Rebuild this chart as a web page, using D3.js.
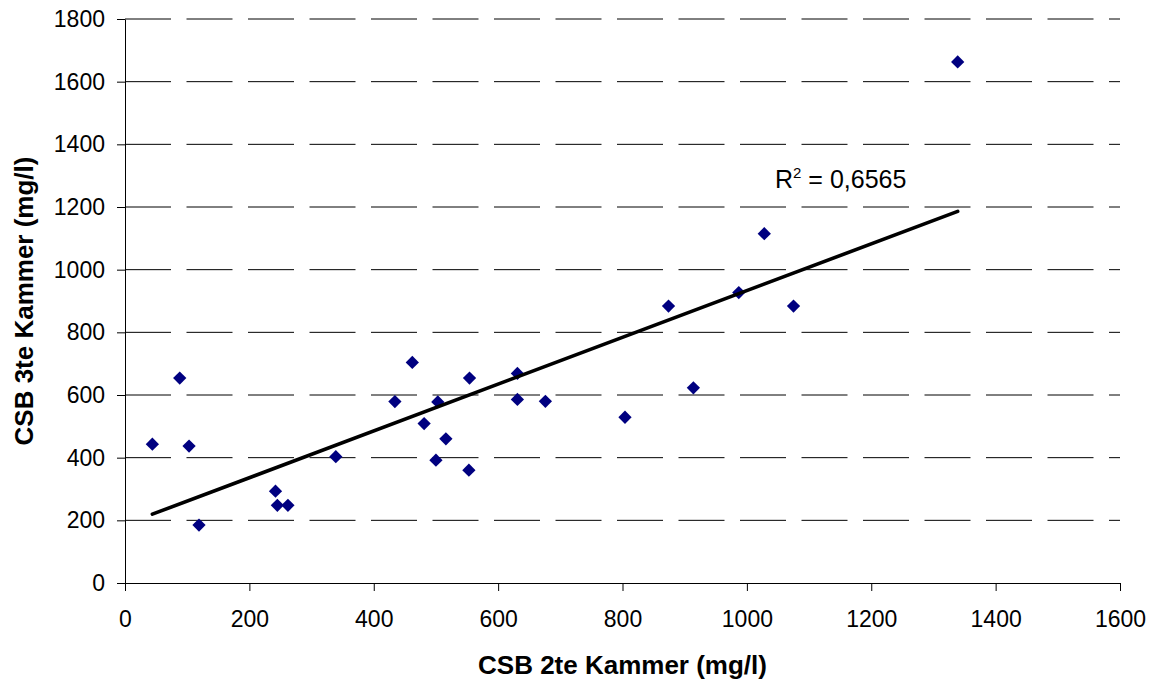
<!DOCTYPE html>
<html>
<head>
<meta charset="utf-8">
<script src="https://cdn.jsdelivr.net/npm/d3@7"></script>
<style>
  html, body { margin: 0; padding: 0; background: #fff; }
  svg { display: block; font-family: "Liberation Sans", Arial, sans-serif; }
</style>
</head>
<body>
<svg id="chart" width="1156" height="684"></svg>
<script>
// CSB measurements: chamber 2 (x) against chamber 3 (y), mg/l
const csb2 = [44, 88, 103, 119, 242, 245, 262, 339, 434, 462, 481, 500, 503,
              516, 553, 554, 631, 631, 676, 804, 874, 914, 987, 1028, 1075, 1339];
const csb3 = [443, 654, 437, 185, 293, 248, 248, 403, 579, 704, 509, 392, 578,
              460, 360, 654, 669, 586, 580, 529, 884, 623, 927, 1115, 884, 1663];
const xTicks = [0, 200, 400, 600, 800, 1000, 1200, 1400, 1600];
const yTicks = [0, 200, 400, 600, 800, 1000, 1200, 1400, 1600, 1800];
const xTitle = "CSB 2te Kammer (mg/l)";
const yTitle = "CSB 3te Kammer (mg/l)";
const rSquaredText = "0,6565";

const svg = d3.select("#chart");
const plot = { left: 125, right: 1120, top: 19, bottom: 583 };

const x = d3.scaleLinear().domain([0, 1600]).range([plot.left, plot.right]);
const y = d3.scaleLinear().domain([0, 1800]).range([plot.bottom, plot.top]);

// dashed horizontal gridlines
svg.append("g")
  .selectAll("line")
  .data(yTicks.filter(d => d > 0))
  .join("line")
  .attr("x1", plot.left).attr("x2", plot.right)
  .attr("y1", d => y(d)).attr("y2", d => y(d))
  .attr("stroke", "#000").attr("stroke-width", 1)
  .attr("stroke-dasharray", "46,15.5");

// axes
const xAxis = svg.append("g")
  .attr("transform", `translate(0,${plot.bottom})`)
  .call(d3.axisBottom(x).tickValues(xTicks).tickFormat(d3.format("d"))
    .tickSizeInner(8).tickSizeOuter(0).tickPadding(20));
const yAxis = svg.append("g")
  .attr("transform", `translate(${plot.left},0)`)
  .call(d3.axisLeft(y).tickValues(yTicks).tickFormat(d3.format("d"))
    .tickSizeInner(8).tickSizeOuter(0).tickPadding(12));

[xAxis, yAxis].forEach(g => {
  g.select(".domain").attr("stroke", "#000").attr("stroke-width", 1);
  g.selectAll(".tick line").attr("stroke", "#000");
  g.selectAll(".tick text")
    .attr("fill", "#000")
    .style("font-family", "'Liberation Sans', Arial, sans-serif")
    .style("font-size", "23px");
});

// least-squares trend line over the data range
const n = csb2.length;
const mx = d3.mean(csb2), my = d3.mean(csb3);
let sxy = 0, sxx = 0;
for (let i = 0; i < n; i++) {
  sxy += (csb2[i] - mx) * (csb3[i] - my);
  sxx += (csb2[i] - mx) * (csb2[i] - mx);
}
const slope = sxy / sxx;
const intercept = my - slope * mx;
const xMin = d3.min(csb2), xMax = d3.max(csb2);

// data points: navy diamonds
const diamond = d3.symbol().type(d3.symbolSquare).size(88);
svg.append("g")
  .selectAll("path")
  .data(csb2.map((v, i) => [v, csb3[i]]))
  .join("path")
  .attr("d", diamond)
  .attr("transform", d => `translate(${x(d[0])},${y(d[1])}) rotate(45)`)
  .attr("fill", "#000080");

svg.append("line")
  .attr("x1", x(xMin)).attr("y1", y(intercept + slope * xMin))
  .attr("x2", x(xMax)).attr("y2", y(intercept + slope * xMax))
  .attr("stroke", "#000").attr("stroke-width", 3.6)
  .attr("stroke-linecap", "round");

// R² annotation
const rLabel = svg.append("text")
  .attr("x", 775).attr("y", 188)
  .attr("fill", "#000")
  .style("font-size", "25px");
rLabel.append("tspan").text("R");
rLabel.append("tspan").attr("dy", -10).style("font-size", "15px").text("2");
rLabel.append("tspan").attr("dy", 10).text(" = " + rSquaredText);

// axis titles
svg.append("text")
  .attr("x", (plot.left + plot.right) / 2).attr("y", 674)
  .attr("text-anchor", "middle")
  .style("font-size", "26px").style("font-weight", "bold")
  .text(xTitle);

svg.append("text")
  .attr("transform", `translate(33,${(plot.top + plot.bottom) / 2}) rotate(-90)`)
  .attr("text-anchor", "middle")
  .style("font-size", "26px").style("font-weight", "bold")
  .text(yTitle);
</script>
</body>
</html>
